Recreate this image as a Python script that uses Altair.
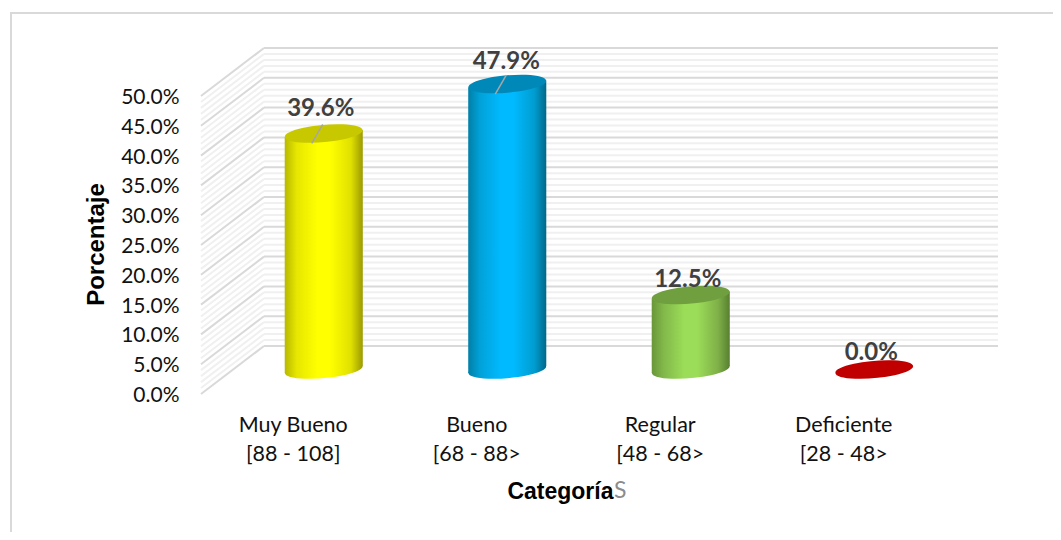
import json
import altair as alt
import pandas as pd

categories = ["Muy Bueno", "Bueno", "Regular", "Deficiente"]
ranges = ["[88 - 108]", "[68 - 88>", "[48 - 68>", "[28 - 48>"]
values = [0.396, 0.479, 0.125, 0.0]
labels = ["39.6%", "47.9%", "12.5%", "0.0%"]
label_nudge_x = [-3, -1, -3, -3]
label_nudge_y = [-24.5, -22, -15, -16.5]
body_stops = [
    ["#b8b800", "#e6e600", "#ffff00", "#ffff00", "#e0e000", "#9a9a00"],
    ["#007fa8", "#00a2d8", "#00baff", "#00baff", "#009ccf", "#00688a"],
    ["#69963a", "#82b84a", "#9bdd58", "#9bdd58", "#7fb048", "#587f30"],
    None,
]
top_colors = ["#c8c800", "#0089b8", "#6f9f3e", "#c00000"]
leader_bars = [0, 1]
major = [0.0, 0.05, 0.10, 0.15, 0.20, 0.25, 0.30, 0.35, 0.40, 0.45, 0.50]
minor = [0.01, 0.02, 0.03, 0.04, 0.06, 0.07, 0.08, 0.09, 0.11, 0.12, 0.13, 0.14,
         0.16, 0.17, 0.18, 0.19, 0.21, 0.22, 0.23, 0.24, 0.26, 0.27, 0.28, 0.29,
         0.31, 0.32, 0.33, 0.34, 0.36, 0.37, 0.38, 0.39, 0.41, 0.42, 0.43, 0.44,
         0.46, 0.47, 0.48, 0.49]

PLOT_W, PLOT_H = 734, 298
DEPTH_X, DEPTH_Y = 63, 48
MID_X, MID_Y = 31, 24.5
HALF_W = 0.2127
TILT = 0.0059
ELLIPSE = "M-0.996,0.087 A1,0.218,-5,1,1,0.996,-0.087 A1,0.218,-5,1,1,-0.996,0.087 Z"
ELLIPSE_SIZE = 78 ** 2
X_LEFT, X_RIGHT = -0.5, 3.5

x_scale = alt.Scale(domain=[X_LEFT, X_RIGHT], nice=False, zero=False)
y_scale = alt.Scale(domain=[0, 0.5], nice=False)

label_table = [[c, r] for c, r in zip(categories, ranges)]
x_axis = alt.Axis(
    values=[0, 1, 2, 3], labelExpr=f"{json.dumps(label_table)}[datum.value]",
    domain=False, ticks=False, grid=False, labelFont="Lato", labelFontSize=21.5,
    labelColor="#111111", labelPadding=20, labelLineHeight=29, labelOverlap=False,
    labelFlush=False, title="Categoría", titleFont="Liberation Sans", titleFontSize=23,
    titleFontWeight="bold", titleColor="#000000", titleAlign="right", titleBaseline="alphabetic",
    titleX=412, titleY=104,
)
y_axis = alt.Axis(
    values=major, format=".1%", domain=False, ticks=False, grid=False, labelFont="Lato",
    labelFontSize=21, labelColor="#111111", labelPadding=22, labelOverlap=False, labelFlush=False,
    labelOffset=1.5,
    title="Porcentaje", titleFont="Liberation Sans", titleFontSize=24, titleFontWeight="bold",
    titleColor="#000000", titleX=-105, titleY=148, titleAlign="center", titleBaseline="middle",
)


def X(field):
    return alt.X(field, scale=x_scale, axis=x_axis)


def Y(field):
    return alt.Y(field, scale=y_scale, axis=y_axis)


def wall(vals, color, width):
    df = pd.DataFrame({"v": vals, "a": X_LEFT, "b": X_RIGHT})
    back = alt.Chart(df).mark_rule(
        color=color, strokeWidth=width, xOffset=DEPTH_X, x2Offset=DEPTH_X,
        yOffset=-DEPTH_Y, y2Offset=-DEPTH_Y,
    ).encode(x=X("a:Q"), x2="b:Q", y=Y("v:Q"), y2="v:Q")
    side = alt.Chart(df).mark_rule(
        color=color, strokeWidth=width, x2Offset=DEPTH_X, y2Offset=-DEPTH_Y,
    ).encode(x=X("a:Q"), x2="a:Q", y=Y("v:Q"), y2="v:Q")
    return [back, side]


layers = []
frame_df = pd.DataFrame({"k": [0]})
# outer frame, running off the right and bottom of the canvas
layers.append(alt.Chart(frame_df).mark_rect(
    fill=None, stroke="#d9d9d9", strokeWidth=2).encode(
    x=alt.value(-190), x2=alt.value(900), y=alt.value(-83), y2=alt.value(500),
))
layers += wall(minor, "#f0f0f0", 2)
layers += wall(major, "#d9d9d9", 2)

for i, v in enumerate(values):
    stops = body_stops[i]
    point = pd.DataFrame({"i": [i], "v": [v], "z": [0.0]})
    if stops:
        grad = alt.Gradient(
            gradient="linear", x1=0, x2=1, y1=0, y2=0,
            stops=[alt.GradientStop(offset=o, color=c)
                   for o, c in zip([0, 0.15, 0.42, 0.58, 0.85, 1], stops)],
        )
        body = pd.DataFrame({
            "x": [i - HALF_W, i + HALF_W],
            "top": [v - TILT, v + TILT],
            "bot": [-TILT, TILT],
        })
        layers.append(alt.Chart(point).mark_point(
            shape=ELLIPSE, size=ELLIPSE_SIZE, filled=True, fill=grad, opacity=1,
            xOffset=MID_X, yOffset=-MID_Y,
        ).encode(x=X("i:Q"), y=Y("z:Q")))
        layers.append(alt.Chart(body).mark_area(
            fill=grad, opacity=1, xOffset=MID_X, x2Offset=MID_X, yOffset=-MID_Y, y2Offset=-MID_Y,
        ).encode(x=X("x:Q"), y=Y("top:Q"), y2="bot:Q"))
    layers.append(alt.Chart(point).mark_point(
        shape=ELLIPSE, size=ELLIPSE_SIZE, filled=True, fill=top_colors[i], opacity=1,
        xOffset=MID_X, yOffset=-MID_Y,
    ).encode(x=X("i:Q"), y=Y("v:Q")))

for i in leader_bars:
    point = pd.DataFrame({"i": [i], "v": [values[i]]})
    layers.append(alt.Chart(point).mark_rule(
        color="#a6a6a6", strokeWidth=1.5,
        xOffset=MID_X - 12, x2Offset=MID_X - 1, yOffset=-MID_Y + 10, y2Offset=-MID_Y - 9,
    ).encode(x=X("i:Q"), x2="i:Q", y=Y("v:Q"), y2="v:Q"))

for i, (v, t) in enumerate(zip(values, labels)):
    point = pd.DataFrame({"i": [i], "v": [v], "t": [t]})
    layers.append(alt.Chart(point).mark_text(
        font="Lato", fontSize=24, fontWeight="bold", color="#404040",
        xOffset=MID_X + label_nudge_x[i], yOffset=-MID_Y + label_nudge_y[i],
        align="center", baseline="middle",
    ).encode(x=X("i:Q"), y=Y("v:Q"), text="t:N"))

# trailing grey letter of the axis title
layers.append(alt.Chart(pd.DataFrame({"s": ["S"]})).mark_text(
    font="Lato", fontSize=23, color="#8c8c8c", align="left", baseline="alphabetic",
).encode(x=alt.value(413), y=alt.value(402), text="s:N"))

chart = alt.layer(*layers).properties(
    width=PLOT_W, height=PLOT_H, background="#ffffff",
    padding={"left": 193, "top": 88, "right": 118, "bottom": 138},
    autosize=alt.AutoSizeParams(type="none"),
).configure_view(stroke=None)

chart.save("out.html", embed_options={"renderer": "svg", "actions": False})
